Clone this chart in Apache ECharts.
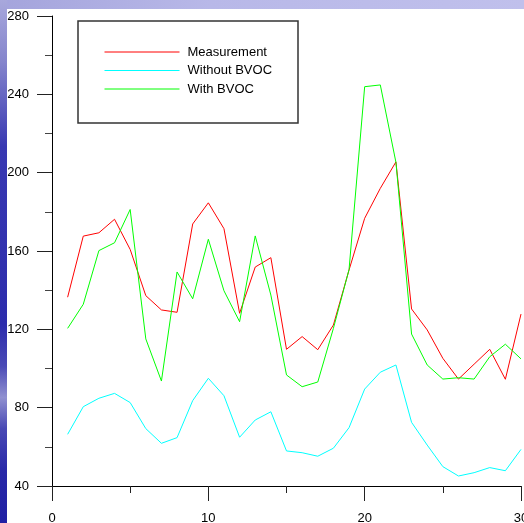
<!DOCTYPE html>
<html>
<head>
<meta charset="utf-8">
<script src="https://cdn.jsdelivr.net/npm/echarts@6/dist/echarts.min.js"></script>
<style>
html,body{margin:0;padding:0;width:524px;height:523px;overflow:hidden;}
body{position:relative;background:#ffffff;}
#top{position:absolute;left:0;top:0;width:524px;height:9px;background:linear-gradient(to right,#a4a4dc,#b8b8e8 40%,#c0c0ec);}
#left{position:absolute;left:0;top:0;width:7px;height:523px;background:linear-gradient(to bottom,#a8a8dc 0%,#8484cc 12%,#3838b2 28%,#2c2cac 62%,#4a4ab6 70%,#9090d0 76%,#4848b4 82%,#2828a8 90%,#2020a4 100%);}
#chart{position:absolute;left:0;top:0;width:524px;height:523px;}
</style>
</head>
<body>
<div id="top"></div>
<div id="left"></div>
<div id="chart"></div>
<script>
const days = [1,2,3,4,5,6,7,8,9,10,11,12,13,14,15,16,17,18,19,20,21,22,23,24,25,26,27,28,29,30];
const measurement = [136.4,167.6,169.3,176.2,160.8,137.2,129.9,128.7,173.8,184.6,171.4,128.2,151.8,156.6,109.8,116.3,109.6,122.2,150.3,176.7,192.0,205.5,130.4,119.7,105.2,94.6,102.2,109.8,94.5,127.8];
const withoutBVOC = [66.4,80.5,84.8,87.3,82.6,69.3,61.8,64.7,83.6,95.0,86.1,64.9,73.7,77.9,57.9,57.0,55.2,59.3,69.8,89.5,98.1,101.8,72.5,60.9,49.9,45.1,46.8,49.4,47.8,58.7];
const withBVOC = [120.5,132.8,160.2,164.2,181.2,115.1,93.6,149.3,135.6,166.0,139.7,123.9,167.7,137.5,96.7,90.7,93.1,120.5,150.5,243.9,244.8,205.3,117.6,101.8,94.6,95.3,94.6,106.0,112.4,104.9];
const seriesNames = ['Measurement','Without BVOC','With BVOC'];
const seriesColors = ['#ff0000','#00ffff','#00ff00'];

function pairs(vals){ return days.map((d,i)=>[d, vals[i]]); }

const chart = echarts.init(document.getElementById('chart'), null, {renderer:'canvas'});
const font = '"Liberation Sans", Arial, sans-serif';
chart.setOption({
  animation:false,
  backgroundColor:'transparent',
  grid:{left:52, top:16, right:3, bottom:37, containLabel:false, outerBoundsMode:'none'},
  graphic:[{
    type:'rect', z:5,
    shape:{x:78, y:21, width:220, height:102},
    style:{fill:'#ffffff', stroke:'#333333', lineWidth:1.5}
  }],
  legend:{
    z:10,
    orient:'vertical',
    left:104, top:45, padding:0,
    itemWidth:75, itemHeight:14, itemGap:4.5,
    data:seriesNames,
    itemStyle:{opacity:0},
    lineStyle:{width:1},
    textStyle:{fontFamily:font, fontSize:13, color:'#000', lineHeight:14, padding:[0,0,0,3]}
  },
  xAxis:{
    type:'value', min:0, max:30, interval:10,
    axisLine:{show:true, lineStyle:{color:'#000', width:1}},
    axisTick:{show:true, inside:false, length:15, lineStyle:{color:'#222', width:1}},
    minorTick:{show:true, splitNumber:2, length:7, lineStyle:{color:'#222', width:1}},
    splitLine:{show:false},
    axisLabel:{fontFamily:font, fontSize:13, color:'#000', margin:26}
  },
  yAxis:{
    type:'value', min:40, max:280, interval:40,
    axisLine:{show:true, lineStyle:{color:'#000', width:1}},
    axisTick:{show:true, inside:false, length:15, lineStyle:{color:'#222', width:1}},
    minorTick:{show:true, splitNumber:2, length:7, lineStyle:{color:'#444', width:1}},
    splitLine:{show:false},
    axisLabel:{fontFamily:font, fontSize:13, color:'#000', margin:23, align:'right'}
  },
  series:[
    {name:seriesNames[0], type:'line', data:pairs(measurement), symbol:'none', lineStyle:{color:seriesColors[0], width:1}, itemStyle:{color:seriesColors[0]}},
    {name:seriesNames[1], type:'line', data:pairs(withoutBVOC), symbol:'none', lineStyle:{color:seriesColors[1], width:1}, itemStyle:{color:seriesColors[1]}},
    {name:seriesNames[2], type:'line', data:pairs(withBVOC), symbol:'none', lineStyle:{color:seriesColors[2], width:1}, itemStyle:{color:seriesColors[2]}}
  ]
});
</script>
</body>
</html>
